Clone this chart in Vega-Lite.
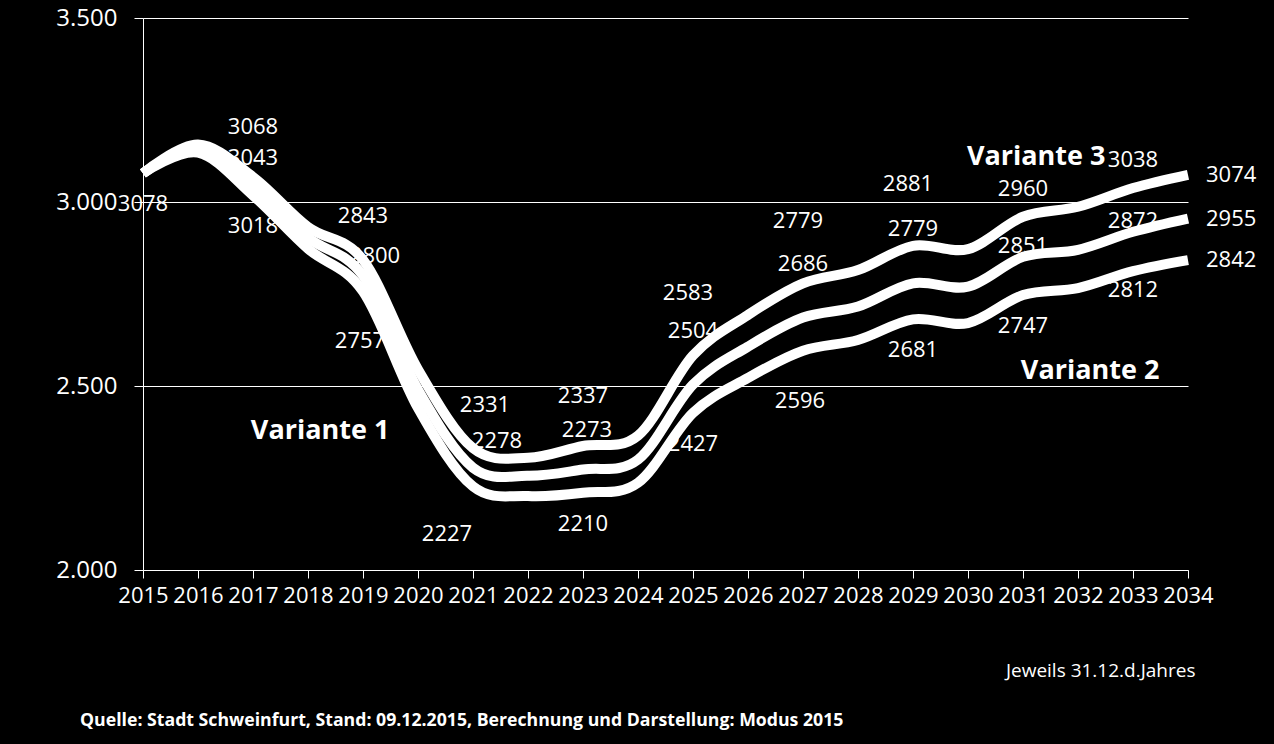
{
  "$schema": "https://vega.github.io/schema/vega-lite/v6.json",
  "width": 1045,
  "height": 552,
  "autosize": {"type": "none"},
  "padding": {"left": 143, "top": 18, "right": 86, "bottom": 174},
  "background": "black",
  "config": {
    "view": {"stroke": null},
    "font": "Open Sans",
    "text": {"font": "Open Sans", "color": "white", "fontSize": 22}
  },
  "title": {
    "text": "Quelle: Stadt Schweinfurt, Stand: 09.12.2015, Berechnung und Darstellung: Modus 2015",
    "orient": "bottom",
    "anchor": "start",
    "frame": "group",
    "dx": -63,
    "offset": 32,
    "fontSize": 17.7,
    "fontWeight": "bold",
    "color": "white",
    "font": "Open Sans"
  },
  "datasets": {
    "lines": [
      {"Jahr": 2015, "Variante": "Variante 3", "Einwohner": 3078, "Label": null},
      {"Jahr": 2016, "Variante": "Variante 3", "Einwohner": 3156, "Label": null},
      {"Jahr": 2017, "Variante": "Variante 3", "Einwohner": 3068, "Label": "3068"},
      {"Jahr": 2018, "Variante": "Variante 3", "Einwohner": 2932, "Label": null},
      {"Jahr": 2019, "Variante": "Variante 3", "Einwohner": 2843, "Label": "2843"},
      {"Jahr": 2020, "Variante": "Variante 3", "Einwohner": 2545, "Label": null},
      {"Jahr": 2021, "Variante": "Variante 3", "Einwohner": 2331, "Label": "2331"},
      {"Jahr": 2022, "Variante": "Variante 3", "Einwohner": 2305, "Label": null},
      {"Jahr": 2023, "Variante": "Variante 3", "Einwohner": 2337, "Label": "2337"},
      {"Jahr": 2024, "Variante": "Variante 3", "Einwohner": 2365, "Label": null},
      {"Jahr": 2025, "Variante": "Variante 3", "Einwohner": 2583, "Label": "2583"},
      {"Jahr": 2026, "Variante": "Variante 3", "Einwohner": 2693, "Label": null},
      {"Jahr": 2027, "Variante": "Variante 3", "Einwohner": 2779, "Label": "2779"},
      {"Jahr": 2028, "Variante": "Variante 3", "Einwohner": 2815, "Label": null},
      {"Jahr": 2029, "Variante": "Variante 3", "Einwohner": 2881, "Label": "2881"},
      {"Jahr": 2030, "Variante": "Variante 3", "Einwohner": 2872, "Label": null},
      {"Jahr": 2031, "Variante": "Variante 3", "Einwohner": 2960, "Label": "2960"},
      {"Jahr": 2032, "Variante": "Variante 3", "Einwohner": 2987, "Label": null},
      {"Jahr": 2033, "Variante": "Variante 3", "Einwohner": 3038, "Label": "3038"},
      {"Jahr": 2034, "Variante": "Variante 3", "Einwohner": 3074, "Label": "3074"},
      {"Jahr": 2015, "Variante": "Variante 1", "Einwohner": 3078, "Label": null},
      {"Jahr": 2016, "Variante": "Variante 1", "Einwohner": 3145, "Label": null},
      {"Jahr": 2017, "Variante": "Variante 1", "Einwohner": 3043, "Label": "3043"},
      {"Jahr": 2018, "Variante": "Variante 1", "Einwohner": 2903, "Label": null},
      {"Jahr": 2019, "Variante": "Variante 1", "Einwohner": 2800, "Label": "2800"},
      {"Jahr": 2020, "Variante": "Variante 1", "Einwohner": 2490, "Label": null},
      {"Jahr": 2021, "Variante": "Variante 1", "Einwohner": 2278, "Label": "2278"},
      {"Jahr": 2022, "Variante": "Variante 1", "Einwohner": 2256, "Label": null},
      {"Jahr": 2023, "Variante": "Variante 1", "Einwohner": 2273, "Label": "2273"},
      {"Jahr": 2024, "Variante": "Variante 1", "Einwohner": 2300, "Label": null},
      {"Jahr": 2025, "Variante": "Variante 1", "Einwohner": 2504, "Label": "2504"},
      {"Jahr": 2026, "Variante": "Variante 1", "Einwohner": 2607, "Label": null},
      {"Jahr": 2027, "Variante": "Variante 1", "Einwohner": 2686, "Label": "2686"},
      {"Jahr": 2028, "Variante": "Variante 1", "Einwohner": 2716, "Label": null},
      {"Jahr": 2029, "Variante": "Variante 1", "Einwohner": 2779, "Label": "2779"},
      {"Jahr": 2030, "Variante": "Variante 1", "Einwohner": 2770, "Label": null},
      {"Jahr": 2031, "Variante": "Variante 1", "Einwohner": 2851, "Label": "2851"},
      {"Jahr": 2032, "Variante": "Variante 1", "Einwohner": 2870, "Label": null},
      {"Jahr": 2033, "Variante": "Variante 1", "Einwohner": 2919, "Label": "2872"},
      {"Jahr": 2034, "Variante": "Variante 1", "Einwohner": 2955, "Label": "2955"},
      {"Jahr": 2015, "Variante": "Variante 2", "Einwohner": 3078, "Label": "3078"},
      {"Jahr": 2016, "Variante": "Variante 2", "Einwohner": 3134, "Label": null},
      {"Jahr": 2017, "Variante": "Variante 2", "Einwohner": 3018, "Label": "3018"},
      {"Jahr": 2018, "Variante": "Variante 2", "Einwohner": 2873, "Label": null},
      {"Jahr": 2019, "Variante": "Variante 2", "Einwohner": 2757, "Label": "2757"},
      {"Jahr": 2020, "Variante": "Variante 2", "Einwohner": 2440, "Label": null},
      {"Jahr": 2021, "Variante": "Variante 2", "Einwohner": 2227, "Label": "2227"},
      {"Jahr": 2022, "Variante": "Variante 2", "Einwohner": 2201, "Label": null},
      {"Jahr": 2023, "Variante": "Variante 2", "Einwohner": 2210, "Label": "2210"},
      {"Jahr": 2024, "Variante": "Variante 2", "Einwohner": 2237, "Label": null},
      {"Jahr": 2025, "Variante": "Variante 2", "Einwohner": 2427, "Label": "2427"},
      {"Jahr": 2026, "Variante": "Variante 2", "Einwohner": 2522, "Label": null},
      {"Jahr": 2027, "Variante": "Variante 2", "Einwohner": 2596, "Label": "2596"},
      {"Jahr": 2028, "Variante": "Variante 2", "Einwohner": 2625, "Label": null},
      {"Jahr": 2029, "Variante": "Variante 2", "Einwohner": 2681, "Label": "2681"},
      {"Jahr": 2030, "Variante": "Variante 2", "Einwohner": 2671, "Label": null},
      {"Jahr": 2031, "Variante": "Variante 2", "Einwohner": 2747, "Label": "2747"},
      {"Jahr": 2032, "Variante": "Variante 2", "Einwohner": 2766, "Label": null},
      {"Jahr": 2033, "Variante": "Variante 2", "Einwohner": 2812, "Label": "2812"},
      {"Jahr": 2034, "Variante": "Variante 2", "Einwohner": 2842, "Label": "2842"}
    ],
    "annotations": [
      {"Name": "Variante 1", "Jahr": 2018.22, "Einwohner": 2378},
      {"Name": "Variante 2", "Jahr": 2032.22, "Einwohner": 2541},
      {"Name": "Variante 3", "Jahr": 2031.24, "Einwohner": 3122}
    ]
  },
  "encoding": {
    "x": {
      "field": "Jahr",
      "type": "quantitative",
      "scale": {"domain": [2015, 2034], "nice": false, "zero": false},
      "axis": {
        "values": [2015, 2016, 2017, 2018, 2019, 2020, 2021, 2022, 2023, 2024, 2025, 2026, 2027, 2028, 2029, 2030, 2031, 2032, 2033, 2034],
        "format": "d",
        "labelFontSize": 22,
        "labelColor": "white",
        "labelFont": "Open Sans",
        "labelPadding": 7,
        "labelFlush": false,
        "labelOverlap": false,
        "domainColor": "white",
        "domainWidth": 1,
        "tickColor": "white",
        "tickSize": 8,
        "grid": false,
        "title": "Jeweils 31.12.d.Jahres",
        "titleX": 1052,
        "titleY": 100,
        "titleAlign": "right",
        "titleBaseline": "middle",
        "titleFontWeight": "normal",
        "titleFontSize": 19,
        "titleColor": "white",
        "titleFont": "Open Sans"
      }
    },
    "y": {
      "field": "Einwohner",
      "type": "quantitative",
      "scale": {"domain": [2000, 3500], "nice": false, "zero": false},
      "axis": {
        "values": [2000, 2500, 3000, 3500],
        "labelExpr": "replace(format(datum.value, ','), ',', '.')",
        "labelFontSize": 24,
        "labelColor": "white",
        "labelFont": "Open Sans",
        "labelPadding": 17,
        "domainColor": "white",
        "tickColor": "white",
        "tickSize": 9,
        "grid": true,
        "gridColor": "white",
        "gridOpacity": 1,
        "gridWidth": 1,
        "title": null
      }
    }
  },
  "layer": [
    {
      "data": {"name": "lines"},
      "mark": {"type": "line", "interpolate": "cardinal", "strokeWidth": 10, "color": "white"},
      "encoding": {"detail": {"field": "Variante", "type": "nominal"}}
    },
    {
      "data": {"name": "lines"},
      "transform": [{"filter": "datum.Variante === 'Variante 3' && (datum.Jahr === 2017 || datum.Jahr === 2023)"}],
      "mark": {"type": "text", "dy": -50},
      "encoding": {"text": {"field": "Label", "type": "nominal"}}
    },
    {
      "data": {"name": "lines"},
      "transform": [{"filter": "datum.Variante === 'Variante 3' && datum.Jahr === 2019"}],
      "mark": {"type": "text", "dy": -44},
      "encoding": {"text": {"field": "Label", "type": "nominal"}}
    },
    {
      "data": {"name": "lines"},
      "transform": [{"filter": "datum.Variante === 'Variante 3' && datum.Jahr === 2021"}],
      "mark": {"type": "text", "dy": -43, "dx": 12},
      "encoding": {"text": {"field": "Label", "type": "nominal"}}
    },
    {
      "data": {"name": "lines"},
      "transform": [{"filter": "datum.Variante === 'Variante 3' && (datum.Jahr === 2025 || datum.Jahr === 2027 || datum.Jahr === 2029)"}],
      "mark": {"type": "text", "dy": -62, "dx": -5},
      "encoding": {"text": {"field": "Label", "type": "nominal"}}
    },
    {
      "data": {"name": "lines"},
      "transform": [{"filter": "(datum.Variante === 'Variante 3' && (datum.Jahr === 2031 || datum.Jahr === 2033)) || (datum.Variante === 'Variante 1' && datum.Jahr === 2017)"}],
      "mark": {"type": "text", "dy": -28},
      "encoding": {"text": {"field": "Label", "type": "nominal"}}
    },
    {
      "data": {"name": "lines"},
      "transform": [{"filter": "datum.Variante === 'Variante 1' && datum.Jahr === 2019"}],
      "mark": {"type": "text", "dy": -20, "dx": 12},
      "encoding": {"text": {"field": "Label", "type": "nominal"}}
    },
    {
      "data": {"name": "lines"},
      "transform": [{"filter": "datum.Variante === 'Variante 1' && datum.Jahr === 2021"}],
      "mark": {"type": "text", "dy": -27, "dx": 24},
      "encoding": {"text": {"field": "Label", "type": "nominal"}}
    },
    {
      "data": {"name": "lines"},
      "transform": [{"filter": "datum.Variante === 'Variante 1' && datum.Jahr === 2023"}],
      "mark": {"type": "text", "dy": -40, "dx": 4},
      "encoding": {"text": {"field": "Label", "type": "nominal"}}
    },
    {
      "data": {"name": "lines"},
      "transform": [{"filter": "datum.Variante === 'Variante 1' && (datum.Jahr === 2025 || datum.Jahr === 2027 || datum.Jahr === 2029)"}],
      "mark": {"type": "text", "dy": -54},
      "encoding": {"text": {"field": "Label", "type": "nominal"}}
    },
    {
      "data": {"name": "lines"},
      "transform": [{"filter": "datum.Variante === 'Variante 1' && (datum.Jahr === 2031 || datum.Jahr === 2033)"}],
      "mark": {"type": "text", "dy": -11},
      "encoding": {"text": {"field": "Label", "type": "nominal"}}
    },
    {
      "data": {"name": "lines"},
      "transform": [{"filter": "datum.Variante === 'Variante 2' && indexof([2015, 2017, 2023, 2025, 2029, 2031], datum.Jahr) >= 0"}],
      "mark": {"type": "text", "dy": 31},
      "encoding": {"text": {"field": "Label", "type": "nominal"}}
    },
    {
      "data": {"name": "lines"},
      "transform": [{"filter": "datum.Variante === 'Variante 2' && (datum.Jahr === 2019 || datum.Jahr === 2027)"}],
      "mark": {"type": "text", "dy": 50, "dx": -3},
      "encoding": {"text": {"field": "Label", "type": "nominal"}}
    },
    {
      "data": {"name": "lines"},
      "transform": [{"filter": "datum.Variante === 'Variante 2' && datum.Jahr === 2021"}],
      "mark": {"type": "text", "dy": 48, "dx": -26},
      "encoding": {"text": {"field": "Label", "type": "nominal"}}
    },
    {
      "data": {"name": "lines"},
      "transform": [{"filter": "datum.Variante === 'Variante 2' && datum.Jahr === 2033"}],
      "mark": {"type": "text", "dy": 19},
      "encoding": {"text": {"field": "Label", "type": "nominal"}}
    },
    {
      "data": {"name": "lines"},
      "transform": [{"filter": "datum.Jahr === 2034"}],
      "mark": {"type": "text", "align": "left", "dx": 18},
      "encoding": {"text": {"field": "Label", "type": "nominal"}}
    },
    {
      "data": {"name": "annotations"},
      "mark": {"type": "text", "fontSize": 27, "fontWeight": "bold"},
      "encoding": {"text": {"field": "Name", "type": "nominal"}}
    }
  ]
}
